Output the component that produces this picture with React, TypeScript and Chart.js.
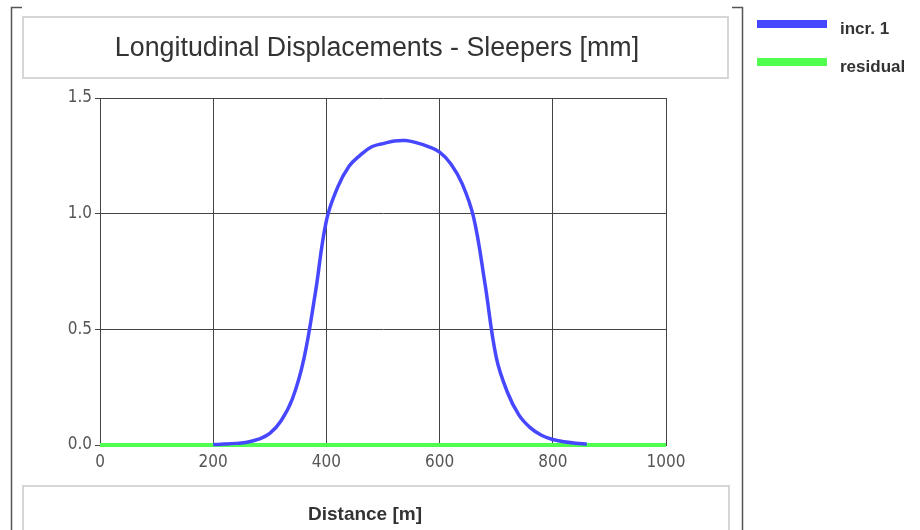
import React, { useEffect, useRef } from 'react';
import { Chart, registerables } from 'chart.js';

Chart.register(...registerables);

const TITLE = 'Longitudinal Displacements - Sleepers [mm]';
const X_TITLE = 'Distance [m]';
const SERIES_LABELS = ['incr. 1', 'residual'];

const DISTANCE = [
  0, 20, 40, 60, 80, 100, 120, 140, 160, 180,
  200, 220, 240, 260, 280, 300, 320, 340, 360, 380,
  400, 420, 440, 460, 480, 500, 520, 540, 560, 580,
  600, 620, 640, 660, 680, 700, 720, 740, 760, 780,
  800, 820, 840, 860, 880, 900, 920, 940, 960, 980,
  1000,
];

const INCR_1: (number | null)[] = [
  null, null, null, null, null, null, null, null, null, null,
  0.002, 0.004, 0.007, 0.012, 0.025, 0.05, 0.105, 0.2, 0.37, 0.65,
  0.97, 1.115, 1.205, 1.253, 1.289, 1.303, 1.314, 1.316, 1.306, 1.29,
  1.266, 1.215, 1.129, 0.985, 0.70, 0.38, 0.227, 0.13, 0.075, 0.042,
  0.024, 0.014, 0.008, 0.004, null, null, null, null, null, null,
  null,
];

const RESIDUAL = [
  0, 0, 0, 0, 0, 0, 0, 0, 0, 0,
  0, 0, 0, 0, 0, 0, 0, 0, 0, 0,
  0, 0, 0, 0, 0, 0, 0, 0, 0, 0,
  0, 0, 0, 0, 0, 0, 0, 0, 0, 0,
  0, 0, 0, 0, 0, 0, 0, 0, 0, 0,
  0,
];

const X_TICKS = [0, 200, 400, 600, 800, 1000];
const Y_TICKS = [0, 0.5, 1.0, 1.5];

const BLUE = '#4747ff';
const GREEN = '#50ff50';
const GRID = '#444444';
const TICK_FAMILY = '"DejaVu Sans Condensed", "Liberation Sans", sans-serif';
const TEXT_FAMILY = '"Liberation Sans", Arial, sans-serif';

const decorPlugin = {
  id: 'decor',
  beforeDraw(chart: any) {
    const ctx = chart.ctx as CanvasRenderingContext2D;
    ctx.save();
    ctx.fillStyle = '#ffffff';
    ctx.fillRect(0, 0, chart.width, chart.height);

    // outer frame
    ctx.strokeStyle = '#555555';
    ctx.lineWidth = 1.5;
    ctx.beginPath();
    ctx.moveTo(22, 7.5);
    ctx.lineTo(11.5, 7.5);
    ctx.lineTo(11.5, 530);
    ctx.moveTo(732, 7.5);
    ctx.lineTo(742.5, 7.5);
    ctx.lineTo(742.5, 530);
    ctx.stroke();

    // title box & x-title box
    ctx.strokeStyle = '#d6d6d6';
    ctx.lineWidth = 2;
    ctx.strokeRect(23, 17, 705, 61);
    ctx.strokeRect(23, 486, 706, 60);

    // title
    ctx.fillStyle = '#333333';
    ctx.font = '26.8px ' + TEXT_FAMILY;
    ctx.textAlign = 'center';
    ctx.textBaseline = 'alphabetic';
    ctx.fillText(TITLE, 377, 56);

    // x title
    ctx.font = 'bold 19px ' + TEXT_FAMILY;
    ctx.fillText(X_TITLE, 365, 520);

    // legend
    const ds = chart.data.datasets;
    const rows = [24, 62];
    ds.forEach((d: any, i: number) => {
      ctx.fillStyle = d.borderColor;
      ctx.fillRect(757, rows[i] - 4, 70, 8);
      ctx.fillStyle = '#333333';
      ctx.font = 'bold 17px ' + TEXT_FAMILY;
      ctx.textAlign = 'left';
      ctx.fillText(d.label, 840, rows[i] + 10);
    });
    ctx.restore();
  },
};

export default function App() {
  const ref = useRef<HTMLCanvasElement>(null);

  useEffect(() => {
    const canvas = ref.current;
    if (!canvas) return;
    const blueData = DISTANCE.map((x, i) => ({ x, y: INCR_1[i] })).filter((p) => p.y !== null);
    const greenData = DISTANCE.map((x, i) => ({ x, y: RESIDUAL[i] }));
    const chart = new Chart(canvas, {
      type: 'line',
      data: {
        datasets: [
          {
            label: SERIES_LABELS[0],
            data: blueData as any,
            borderColor: BLUE,
            backgroundColor: BLUE,
            borderWidth: 3.5,
            pointRadius: 0,
            tension: 0.4,
            clip: false as any,
          },
          {
            label: SERIES_LABELS[1],
            data: greenData as any,
            borderColor: GREEN,
            backgroundColor: GREEN,
            borderWidth: 4,
            pointRadius: 0,
            clip: false as any,
          },
        ],
      },
      options: {
        responsive: false,
        animation: false,
        devicePixelRatio: 1,
        layout: { padding: { left: 60, top: 98, right: 254, bottom: 45 } },
        plugins: {
          legend: { display: false },
          title: { display: false },
          tooltip: { enabled: false },
        },
        scales: {
          x: {
            type: 'linear',
            min: 0,
            max: 1000,
            afterBuildTicks: (s: any) => {
              s.ticks = X_TICKS.map((v) => ({ value: v }));
            },
            afterFit: (s: any) => {
              s.height = 40;
            },
            grid: { color: GRID, lineWidth: 1, drawTicks: false },
            border: { color: GRID, width: 1 },
            ticks: {
              padding: 7,
              color: '#555555',
              font: { family: TICK_FAMILY, size: 17 },
              maxRotation: 0,
              autoSkip: false,
              callback: (v: any) => String(v),
            },
          },
          y: {
            type: 'linear',
            min: 0,
            max: 1.5,
            afterBuildTicks: (s: any) => {
              s.ticks = Y_TICKS.map((v) => ({ value: v }));
            },
            afterFit: (s: any) => {
              s.width = 40;
            },
            grid: { color: GRID, lineWidth: 1, tickLength: 5 },
            border: { color: GRID, width: 1 },
            ticks: {
              padding: 3,
              color: '#555555',
              font: { family: TICK_FAMILY, size: 17 },
              callback: (v: any) => Number(v).toFixed(1),
            },
          },
        },
      },
      plugins: [decorPlugin],
    });
    return () => chart.destroy();
  }, []);

  return (
    <div style={{ position: 'absolute', left: 0, top: 0, width: 920, height: 530, background: '#fff' }}>
      <canvas ref={ref} width={920} height={530} style={{ display: 'block', width: 920, height: 530 }} />
    </div>
  );
}
